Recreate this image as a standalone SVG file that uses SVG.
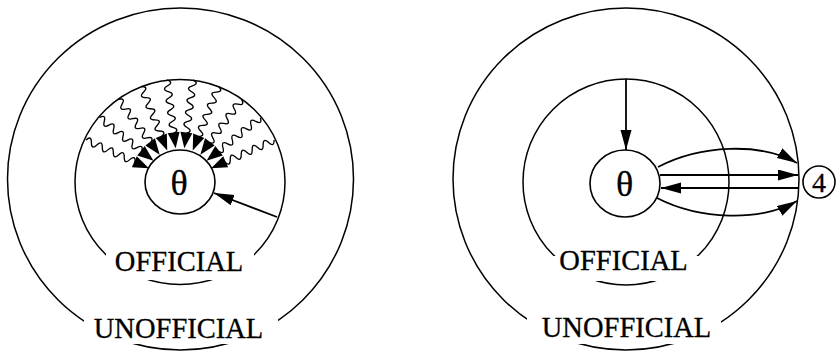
<svg xmlns="http://www.w3.org/2000/svg" xmlns:xlink="http://www.w3.org/1999/xlink" width="836" height="354" viewBox="0 0 836 354">
<style>
.ring{fill:none;stroke:#000;stroke-width:1.5}
.node{fill:#fff;stroke:#000;stroke-width:1.6}
.mask{fill:#fff;stroke:none}
.lbl{font-family:"Liberation Serif","Times New Roman",serif;font-size:28.5px;fill:#000;stroke:#000;stroke-width:0.3;text-anchor:middle}
.sym{font-family:"Liberation Serif","Times New Roman",serif;font-size:36px;fill:#000;stroke:#000;stroke-width:0.3;text-anchor:middle}
.num{font-family:"Liberation Serif","Times New Roman",serif;font-size:28px;fill:#000;stroke:#000;stroke-width:0.3;text-anchor:middle}
.edge{fill:none;stroke:#000;stroke-width:1.8}
.wavy{fill:none;stroke:#000;stroke-width:1.3}
</style>
<defs>
<marker id="ah" markerUnits="userSpaceOnUse" markerWidth="22" markerHeight="12" refX="20" refY="5.5" orient="auto">
<path d="M0,0 L20,5.5 L0,11 z" fill="#000"/>
</marker>
<g id="wave">
<path class="wavy" d="M103,0 Q100,7 97,0 T91,0 T85,0 T79,0 T73,0 T67,0 T61,0 T55,0 T49,0"/>
<polygon points="50,-6 50,6 34,0" fill="#000"/>
</g>
</defs>

<g id="left-unofficial">
<ellipse class="ring" cx="180.5" cy="179" rx="173" ry="171"/>
<rect class="mask" x="84" y="314" width="194" height="30"/>
<text class="lbl" x="178.5" y="338">UNOFFICIAL</text>
</g>
<g id="left-official">
<ellipse class="ring" cx="180" cy="182" rx="105" ry="102.5"/>
<rect class="mask" x="106" y="252" width="148" height="28"/>
<text class="lbl" x="179" y="271">OFFICIAL</text>
</g>
<g id="left-theta">
<ellipse class="node" cx="180" cy="182" rx="35" ry="32"/>
<text class="sym" x="179" y="195">θ</text>
</g>

<g id="right-unofficial">
<ellipse class="ring" cx="626" cy="179" rx="173" ry="171"/>
<rect class="mask" x="527" y="314" width="194" height="30"/>
<text class="lbl" x="626.5" y="337">UNOFFICIAL</text>
</g>
<g id="right-official">
<ellipse class="ring" cx="626" cy="182" rx="103" ry="103"/>
<rect class="mask" x="550" y="256" width="152" height="25"/>
<text class="lbl" x="623.5" y="270">OFFICIAL</text>
</g>
<g id="right-theta">
<ellipse class="node" cx="625" cy="183.5" rx="35" ry="33.5"/>
<text class="sym" x="624.5" y="196">θ</text>
</g>
<g id="node-4">
<circle class="node" cx="819" cy="182" r="16"/>
<text class="num" x="819" y="192">4</text>
</g>

<g id="connectors">
<use xlink:href="#wave" transform="translate(180,182) rotate(-24)"/>
<use xlink:href="#wave" transform="translate(180,182) rotate(-38.67)"/>
<use xlink:href="#wave" transform="translate(180,182) rotate(-53.33)"/>
<use xlink:href="#wave" transform="translate(180,182) rotate(-68)"/>
<use xlink:href="#wave" transform="translate(180,182) rotate(-82.67)"/>
<use xlink:href="#wave" transform="translate(180,182) rotate(-97.33)"/>
<use xlink:href="#wave" transform="translate(180,182) rotate(-112)"/>
<use xlink:href="#wave" transform="translate(180,182) rotate(-126.67)"/>
<use xlink:href="#wave" transform="translate(180,182) rotate(-141.33)"/>
<use xlink:href="#wave" transform="translate(180,182) rotate(-156)"/>
<line class="edge" x1="277" y1="217" x2="214" y2="193" marker-end="url(#ah)"/>
<line class="edge" x1="626" y1="79" x2="626" y2="150" marker-end="url(#ah)"/>
<path class="edge" d="M658,167 C700,145 760,142 797,163" marker-end="url(#ah)"/>
<line class="edge" x1="660" y1="175" x2="798" y2="175" marker-end="url(#ah)"/>
<line class="edge" x1="799" y1="188" x2="661" y2="188" marker-end="url(#ah)"/>
<path class="edge" d="M657,198 C700,220 760,222 797,201" marker-end="url(#ah)"/>
</g>
</svg>
